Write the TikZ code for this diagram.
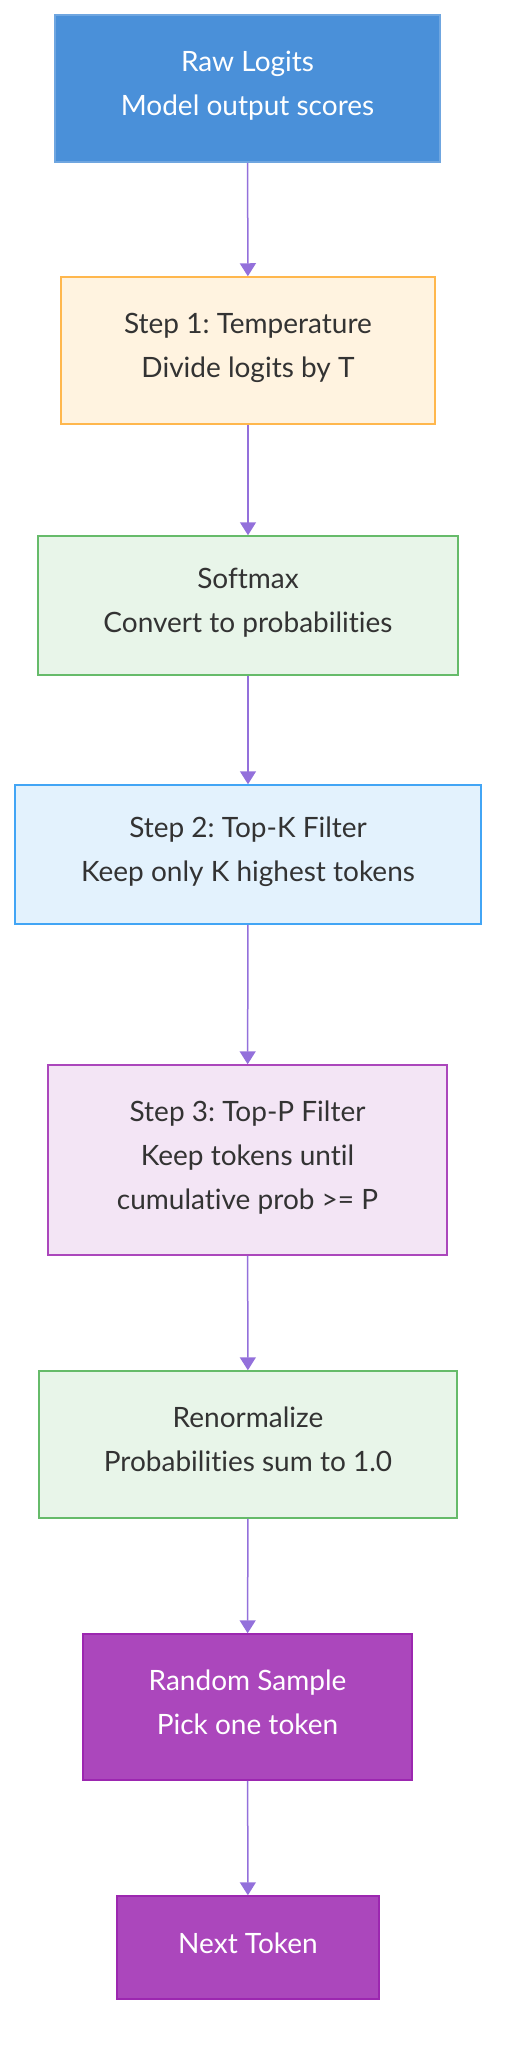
\documentclass[tikz,border=0pt]{standalone}
\usepackage{fontspec}
\setmainfont{Lato}[Ligatures={NoCommon,NoRare}]
\usepackage{xcolor}
\usepackage{tikz}
\usetikzlibrary{arrows.meta}

\definecolor{rawfill}{HTML}{4A90D9}
\definecolor{rawline}{HTML}{6FA6E0}
\definecolor{tempfill}{HTML}{FFF3E0}
\definecolor{templine}{HTML}{FFB74D}
\definecolor{softfill}{HTML}{E8F5E9}
\definecolor{softline}{HTML}{66BB6A}
\definecolor{kfill}{HTML}{E3F2FD}
\definecolor{kline}{HTML}{42A5F5}
\definecolor{pfill}{HTML}{F3E5F5}
\definecolor{pline}{HTML}{AB47BC}
\definecolor{samplefill}{HTML}{AB47BC}
\definecolor{sampleline}{HTML}{9C27B0}
\definecolor{flowline}{HTML}{9370DB}
\definecolor{txt}{HTML}{333333}
\newcommand{\linestrut}{\rule[-10.5pt]{0pt}{33.5pt}}

\begin{document}
\frenchspacing
\begin{tikzpicture}[x=1pt, y=-1pt,
		box/.style={draw, line width=1.5pt, align=center, inner sep=0pt,
			font=\fontsize{28}{44}\selectfont, text=txt,
			execute at begin node=\linestrut, execute at end node=\linestrut},
		flow/.style={draw=flowline, line width=1.5pt, -{Triangle[width=16pt,length=13pt]}}]
			\useasboundingbox (0,0) rectangle (512,2072);
			\node[box, fill=rawfill, draw=rawline, text=white, minimum width=385pt, minimum height=147pt] (raw) at (247.5,88.5) {Raw Logits\\Model output scores};
			\node[box, fill=tempfill, draw=templine, minimum width=374pt, minimum height=147pt] (temp) at (248,350.5) {Step 1: Temperature\\Divide logits by T};
			\node[box, fill=softfill, draw=softline, minimum width=420pt, minimum height=139pt] (soft) at (248,605.5) {Softmax\\Convert to probabilities};
			\node[box, fill=kfill, draw=kline, minimum width=466pt, minimum height=139pt] (topk) at (248,854.5) {Step 2: Top-K Filter\\Keep only K highest tokens};
			\node[box, fill=pfill, draw=pline, minimum width=399pt, minimum height=190pt] (topp) at (247.5,1160) {Step 3: Top-P Filter\\Keep tokens until\\cumulative prob >= P};
			\node[box, fill=softfill, draw=softline, minimum width=418pt, minimum height=147pt] (renorm) at (248,1444.5) {Renormalize\\Probabilities sum to 1.0};
			\node[box, fill=samplefill, draw=sampleline, text=white, minimum width=329pt, minimum height=146pt] (sample) at (247.5,1707) {Random Sample\\Pick one token};
			\node[box, fill=samplefill, draw=sampleline, text=white, minimum width=262pt, minimum height=103pt] (next) at (248,1947.5) {Next Token};
			\draw[flow] (raw) -- (temp);
			\draw[flow] (temp) -- (soft);
			\draw[flow] (soft) -- (topk);
			\draw[flow] (topk) -- (topp);
			\draw[flow] (topp) -- (renorm);
			\draw[flow] (renorm) -- (sample);
			\draw[flow] (sample) -- (next);
		\end{tikzpicture}
\end{document}
